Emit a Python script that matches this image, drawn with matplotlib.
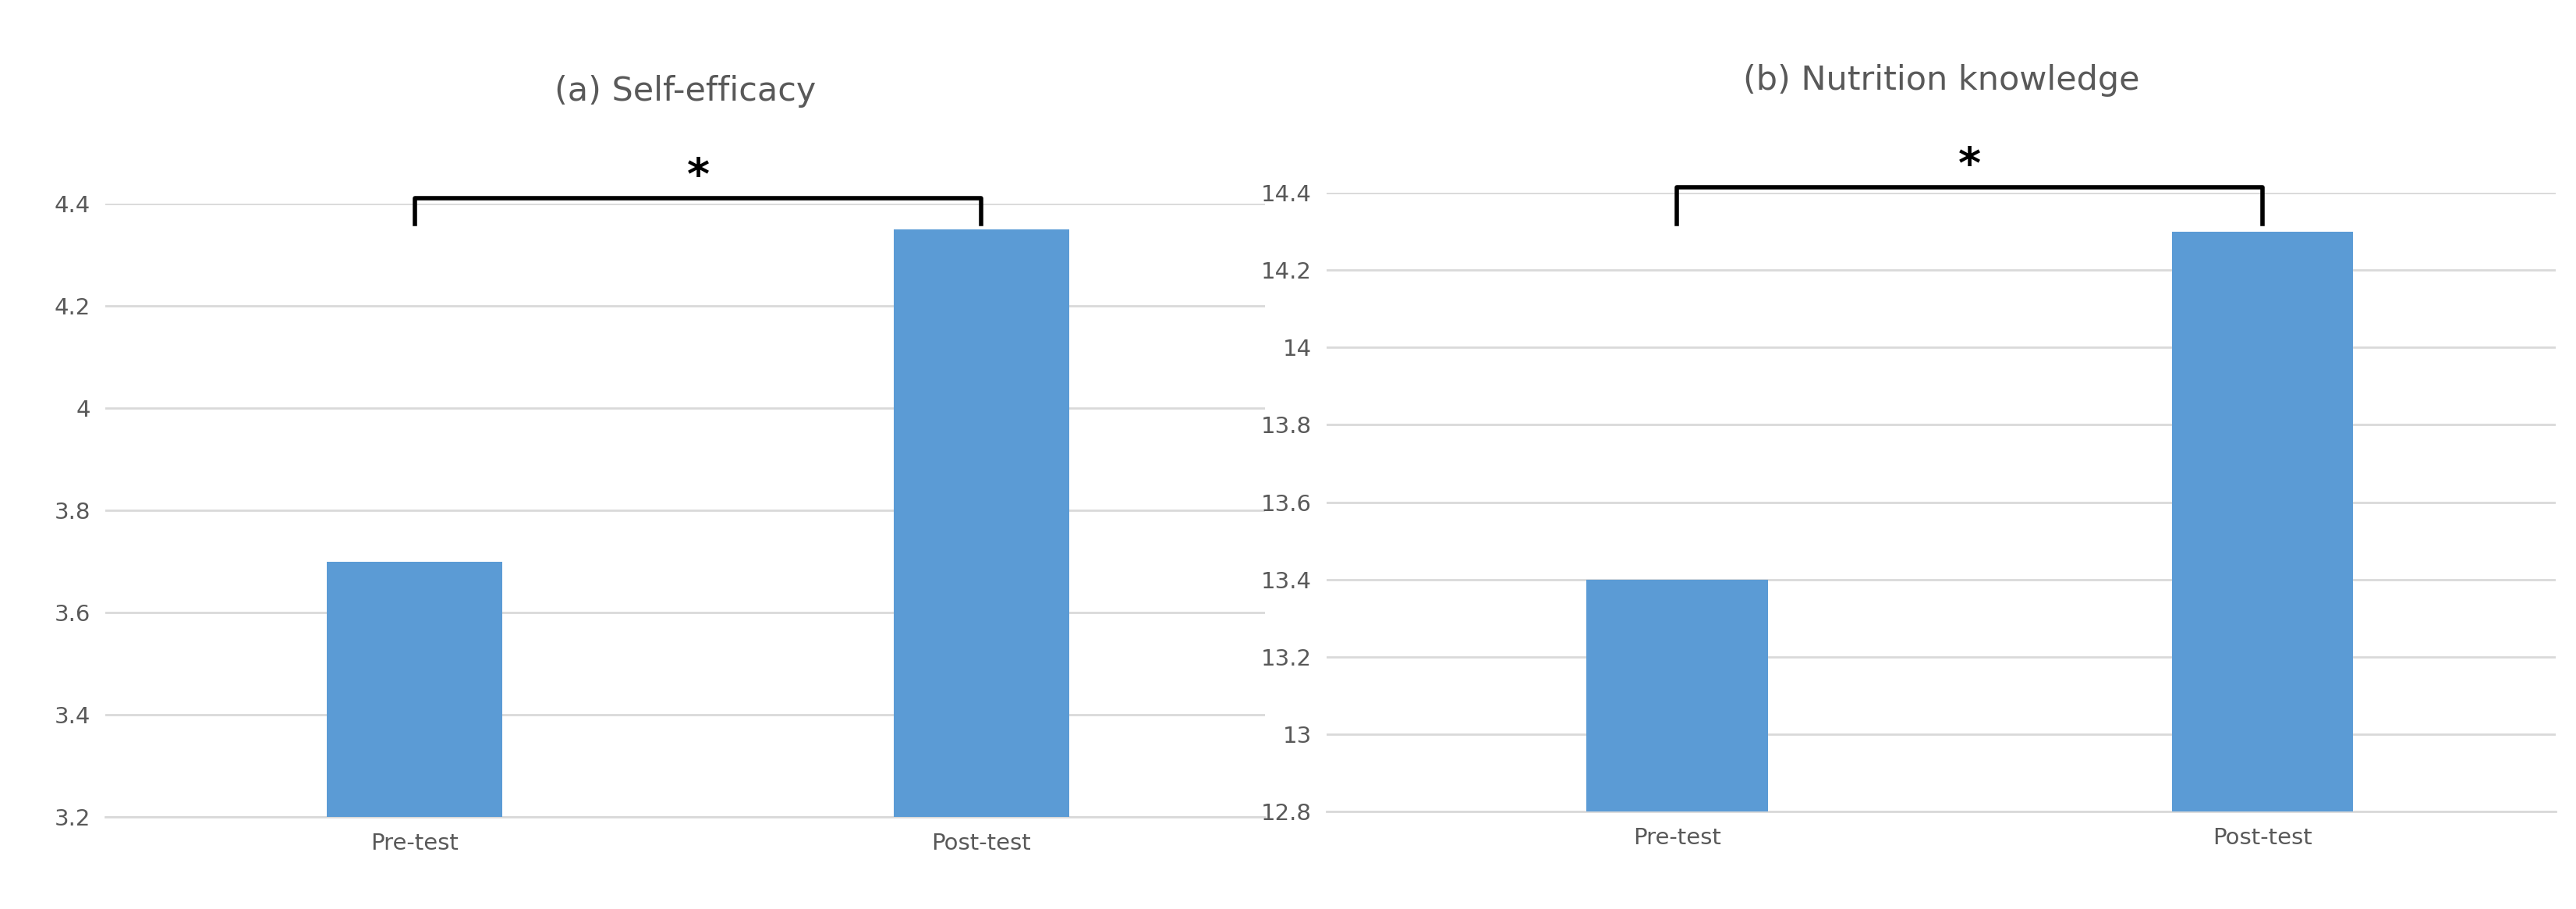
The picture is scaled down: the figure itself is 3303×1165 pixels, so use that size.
import matplotlib.pyplot as plt

categories = ["Pre-test", "Post-test"]
self_efficacy = [3.70, 4.35]
nutrition = [13.40, 14.30]

bar_color = "#5B9BD5"
grey = "#595959"

fig = plt.figure(figsize=(33.03, 11.65), dpi=100)
ax1 = fig.add_axes([0.041, 0.101, 0.450, 0.675])
ax2 = fig.add_axes([0.515, 0.107, 0.477, 0.681])


def draw(ax, vals, ylim, ticks, ticklabels, title, xlim, bracket_top, bracket_low):
    ax.bar([0, 1], [v - ylim[0] for v in vals], bottom=ylim[0], width=0.31,
           color=bar_color, zorder=3)
    ax.set_ylim(*ylim)
    ax.set_xlim(*xlim)
    ax.set_yticks(ticks)
    ax.set_yticklabels(ticklabels)
    ax.set_xticks([0, 1])
    ax.set_xticklabels(categories)
    ax.grid(axis="y", color="#D9D9D9", linewidth=2, zorder=0)
    for s in ["top", "right", "left"]:
        ax.spines[s].set_visible(False)
    ax.spines["bottom"].set_color("#D9D9D9")
    ax.spines["bottom"].set_linewidth(2)
    ax.tick_params(length=0, labelsize=21, colors=grey, pad=14)
    ax.set_title(title, fontsize=31, color=grey, pad=95)
    # significance bracket
    ax.plot([0, 0, 1, 1], [bracket_low, bracket_top, bracket_top, bracket_low],
            color="black", linewidth=4, clip_on=False, zorder=4)
    ax.text(0.5, bracket_top, "*", ha="center", va="bottom", fontsize=40,
            fontweight="bold", color="black")


draw(ax1, self_efficacy, (3.2, 4.4), [3.2, 3.4, 3.6, 3.8, 4.0, 4.2, 4.4],
     ["3.2", "3.4", "3.6", "3.8", "4", "4.2", "4.4"], "(a) Self-efficacy",
     (-0.545, 1.5), 4.41, 4.36)
draw(ax2, nutrition, (12.8, 14.4), [12.8, 13, 13.2, 13.4, 13.6, 13.8, 14, 14.2, 14.4],
     ["12.8", "13", "13.2", "13.4", "13.6", "13.8", "14", "14.2", "14.4"],
     "(b) Nutrition knowledge", (-0.598, 1.5), 14.415, 14.32)

fig.savefig("out.png", dpi=100)
